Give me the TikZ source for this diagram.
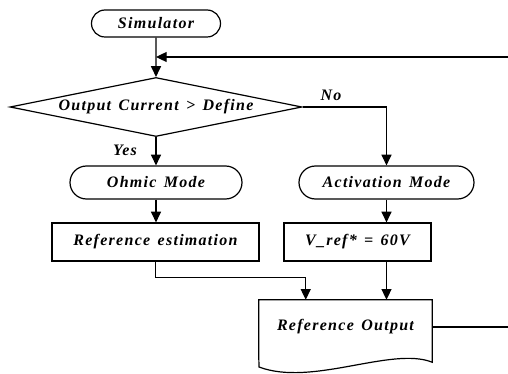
\documentclass[tikz,border=0pt]{standalone}
\usepackage{fontspec}
\setmainfont{Liberation Serif}[LetterSpace=8,WordSpace=1.4]
\usetikzlibrary{shapes.geometric,shapes.misc,arrows.meta,calc}
\tikzset{
  every node/.style={font=\fontsize{12}{14}\selectfont\bfseries\itshape},
  term/.style={draw,rounded rectangle,line width=0.9pt,inner sep=0pt},
  decide/.style={draw,diamond,aspect=5,line width=0.9pt,inner sep=0pt},
  proc/.style={draw,rectangle,line width=0.9pt,inner sep=0pt},
  flow/.style={line width=0.9pt,-{Triangle[length=8pt,width=7.5pt]}},
  link/.style={line width=0.9pt}
}
\begin{document}
\begin{tikzpicture}[x=0.75pt,y=-0.75pt]
    \useasboundingbox (0,0) rectangle (508,374);
    \node[term,minimum width=96.75pt,minimum height=20.25pt] (sim) at (156,23.5) {Simulator};% start
    \node[decide,minimum width=219pt,minimum height=44.25pt] (dec) at (156,107) {Output Current > Define};% test
    \node[term,minimum width=129pt,minimum height=24.75pt] (ohm) at (156,182.5) {Ohmic Mode};
    \node[term,minimum width=131.25pt,minimum height=24.75pt] (act) at (386.5,182.5) {Activation Mode};
    \node[proc,minimum width=155.25pt,minimum height=28.5pt] (est) at (155.5,242) {Reference estimation};
    \node[proc,minimum width=110.25pt,minimum height=28.5pt] (vref) at (357.5,242) {V\_ref* = 60V};
    \node[minimum width=129.75pt,minimum height=40.5pt,inner sep=0pt] (out) at (345.5,327) {Reference Output};
    \node (yes) at (125,150) {Yes};% label the branch
    \node (no) at (331,95) {No};% label the branch
    % document shape
    \draw[link] (out.south west) -- (out.north west) -- (out.north east) -- (out.south east) -- ++(0,8)
        .. controls (392,346) and (312,387) .. (259,367) -- (out.south west);
    % connectors
    \coordinate (back) at (508,57);
    \coordinate (exit) at (508,327);
    \draw[flow] (sim) -- (dec);
    \draw[flow] (back) -- (back -| sim.south);% loop back
    \draw[flow] (dec.south) -- (ohm.north);
    \draw[flow] (dec.east) -| (act.north);
    \draw[flow] (ohm.south) -- (ohm.south |- est.north);
    \draw[flow] (act.south) -- (act.south |- vref.north);
    \draw[flow] (est.south) -- ++(0,16) -| ($(out.north west)+(47,0)$);
    \draw[flow] (act.south |- vref.south) -- (act.south |- out.north);
    \draw[link] (out.east) -- (exit);
\end{tikzpicture}
\end{document}
